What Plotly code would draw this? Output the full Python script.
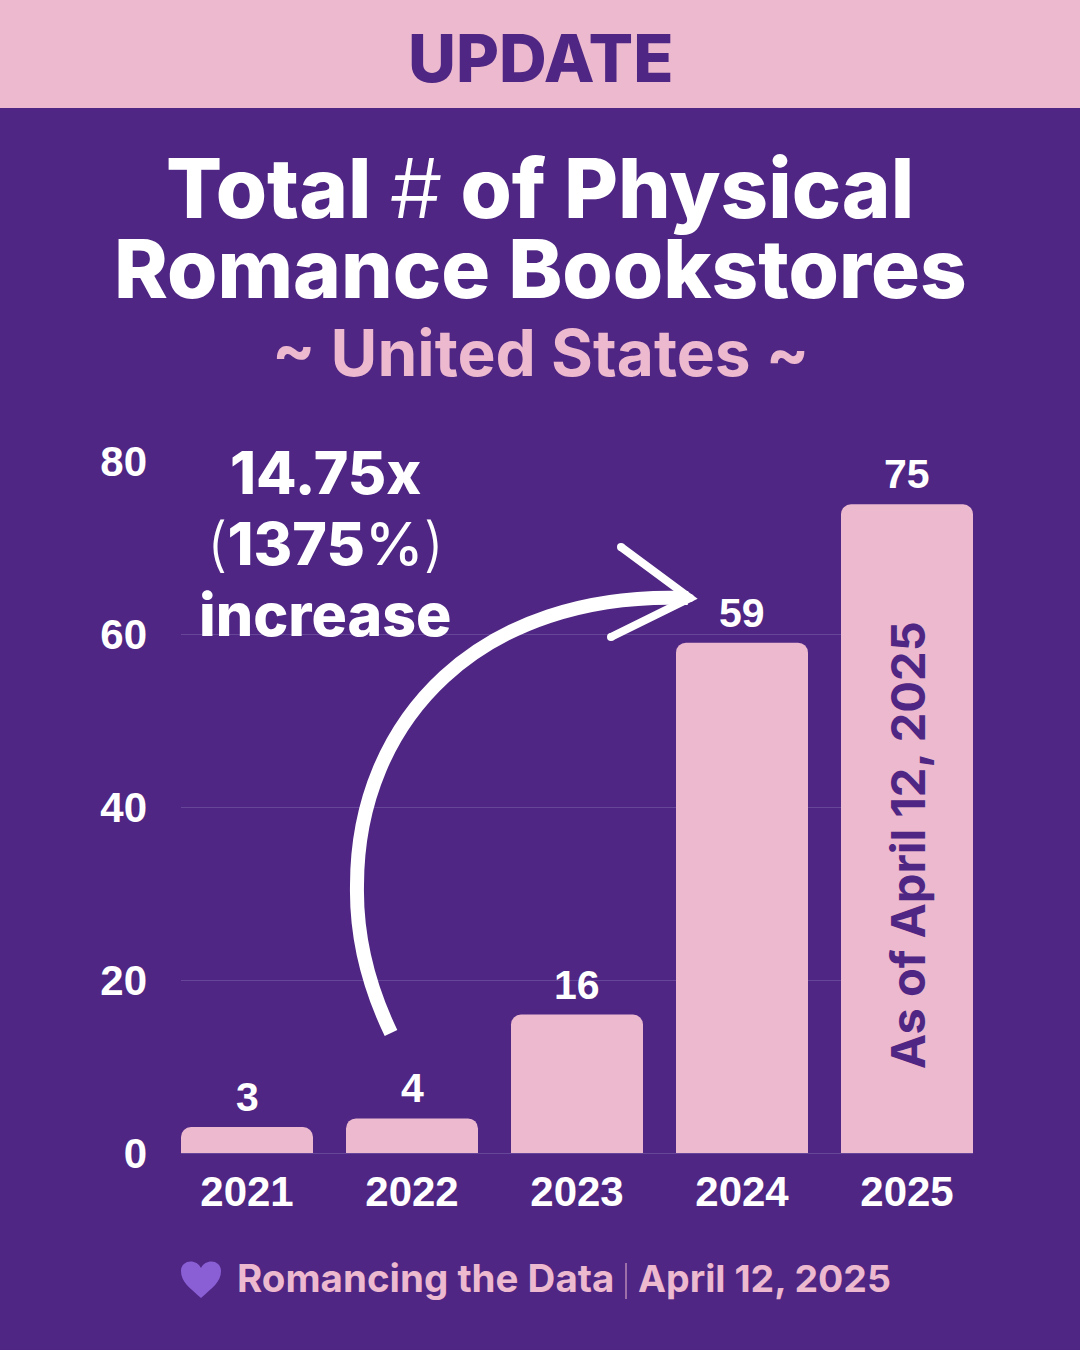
import plotly.graph_objects as go

years = ["2021", "2022", "2023", "2024", "2025"]
stores = [3, 4, 16, 59, 75]
y_ticks = [0, 20, 40, 60, 80]

BG = "#4F2683"
PINK = "#ECB9CF"
W, H = 1080, 1350
TITLE_FONT = "Inter"
NUM_FONT = "Liberation Sans"


def px(x):
    return x / W


def py(y):
    return 1 - y / H


fig = go.Figure(
    go.Bar(
        x=years,
        y=stores,
        marker=dict(color=PINK, line_width=0),
        cliponaxis=False,
        hoverinfo="skip",
    )
)

# value labels, anchored on the data (category axis position = index)
for i, v in enumerate(stores):
    fig.add_annotation(
        x=i, y=v, xref="x", yref="y", text=str(v), showarrow=False,
        yanchor="middle", yshift=30,
        font=dict(family=NUM_FONT, size=41, color="white", weight="bold"),
    )


def label(text, x, y, size, color="white", font=TITLE_FONT, weight=800, angle=0):
    fig.add_annotation(
        xref="paper", yref="paper", x=px(x), y=py(y), text=text, showarrow=False,
        xanchor="center", yanchor="middle", textangle=angle,
        font=dict(family=font, size=size, color=color, weight=weight),
        align="center",
    )


THIN = '<span style="font-weight:300">%s</span>'
MED = '<span style="font-weight:500">%s</span>'

label("UPDATE", 540, 58, 66, color=BG)
label("Total " + THIN % "#" + " of Physical", 540, 188, 83)
label("Romance Bookstores", 540, 268, 81.5)
label("~ United States ~", 540, 353, 64, color=PINK, weight=700)
label("14.75x", 325, 472, 59)
label(THIN % "(" + "1375" + MED % "%" + THIN % ")", 325, 543, 59)
label("increase", 325, 614, 59)
label("As of April 12, 2025", 907, 845, 47, color=BG, weight=700, angle=-90)
label("Romancing the Data", 425, 1278, 38.5, color=PINK, weight=700)
label("April 12, 2025", 764, 1278, 37.5, color=PINK, weight=700)


def P(x, y):
    return f"{px(x):.5f},{py(y):.5f}"


def dot(x, y, r, color="white"):
    return dict(type="circle", xref="paper", yref="paper",
                x0=px(x - r), x1=px(x + r), y0=py(y + r), y1=py(y - r),
                fillcolor=color, line_width=0)


shapes = [
    # header band
    dict(type="rect", xref="paper", yref="paper", x0=0, x1=1, y0=py(108), y1=1,
         fillcolor=PINK, line_width=0, layer="below"),
    # curved arrow shaft
    dict(type="path", xref="paper", yref="paper",
         path=f"M {P(391, 1033)} C {P(368, 985)} {P(356, 935)} {P(357, 885)} "
              f"C {P(357, 720)} {P(480, 590)} {P(688, 598)}",
         line=dict(color="white", width=14), fillcolor="rgba(0,0,0,0)"),
    # arrow head
    dict(type="path", xref="paper", yref="paper",
         path=f"M {P(621, 547)} L {P(690, 598)} L {P(611, 637)}",
         line=dict(color="white", width=8), fillcolor="rgba(0,0,0,0)"),
    dot(621, 547, 4), dot(690, 598, 4), dot(611, 637, 4),
    # footer separator
    dict(type="line", xref="paper", yref="paper", x0=px(626), x1=px(626), y0=py(1263), y1=py(1299),
         line=dict(color=PINK, width=1)),
    # heart
    dict(type="path", xref="paper", yref="paper",
         path=f"M {P(201, 1298)} C {P(190, 1288)} {P(181, 1282)} {P(181, 1271)} "
              f"C {P(181, 1260)} {P(196, 1258)} {P(201, 1268)} "
              f"C {P(206, 1258)} {P(221, 1260)} {P(221, 1271)} "
              f"C {P(221, 1282)} {P(212, 1288)} {P(201, 1298)} Z",
         fillcolor="#8A5FD6", line_width=0),
]

fig.update_layout(
    width=W, height=H, margin=dict(l=0, r=0, t=0, b=0, pad=0, autoexpand=False),
    paper_bgcolor=BG, plot_bgcolor=BG,
    showlegend=False, bargap=0.2, barcornerradius=10,
    shapes=shapes,
    xaxis=dict(
        domain=[px(181), px(973)], range=[-0.4, 4.4], type="category",
        showgrid=False, zeroline=False, showline=False, ticks="",
        ticklabelstandoff=10, automargin=False,
        tickfont=dict(family=NUM_FONT, size=42, color="white", weight="bold"),
    ),
    yaxis=dict(
        domain=[py(1153), py(461)], range=[0, 80], tickvals=y_ticks,
        showgrid=True, gridcolor="#67469A", gridwidth=1,
        zeroline=True, zerolinecolor="#67469A", zerolinewidth=1,
        showline=False, ticks="", ticklabelstandoff=33, automargin=False,
        tickfont=dict(family=NUM_FONT, size=42, color="white", weight="bold"),
    ),
)

fig.write_html(
    "out.html",
    config={"displayModeBar": False},
    post_script="document.body.style.margin='0';",
)
